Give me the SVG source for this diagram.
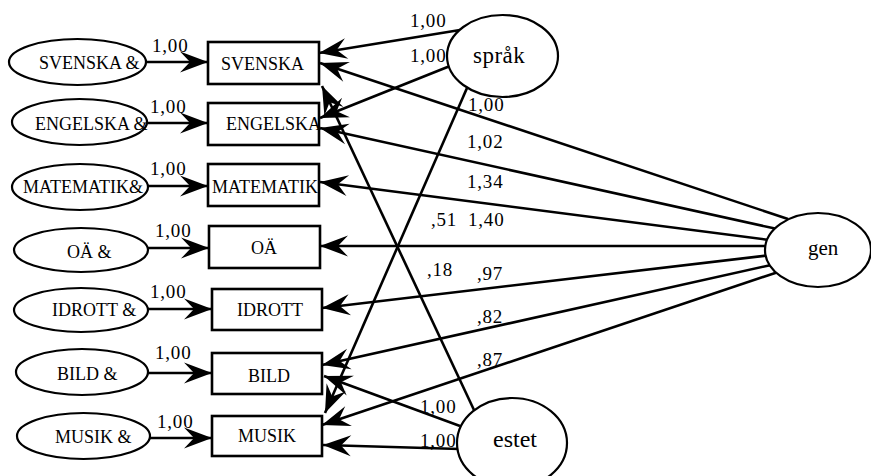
<svg xmlns="http://www.w3.org/2000/svg" width="871" height="476" viewBox="0 0 871 476">
  <style>
    .shape { fill: #fff; stroke: #000; stroke-width: 2.2; }
    .box { fill: #fff; stroke: #000; stroke-width: 2.6; }
    .edge { fill: none; stroke: #000; stroke-width: 2.6; marker-end: url(#head); }
    .t { font-family: Liberation Serif, Times New Roman, Times, serif; fill: #000; }
    .lbl { font-size: 18px; }
    .num { font-size: 19px; letter-spacing: 0.8px; }
  </style>
  <defs>
    <marker id="head" markerUnits="userSpaceOnUse" viewBox="-30 -11 32 22" refX="0" refY="0" markerWidth="32" markerHeight="22" orient="auto">
      <path d="M0,0 L-28,-10.5 L-18,0 L-28,10.5 Z" fill="#000"/>
    </marker>
  </defs>

  <!-- paths and their weights -->
  <g id="connectors">
    <!-- error terms into observed grades -->
    <line class="edge" x1="146" y1="62" x2="208" y2="62"/>
    <line class="edge" x1="147" y1="123" x2="208" y2="123"/>
    <line class="edge" x1="148" y1="186" x2="208" y2="186"/>
    <line class="edge" x1="148" y1="248" x2="209" y2="248"/>
    <line class="edge" x1="148" y1="309" x2="212" y2="309"/>
    <line class="edge" x1="148" y1="373" x2="212" y2="373"/>
    <line class="edge" x1="150" y1="438" x2="212" y2="438"/>
    <g class="t num">
      <text x="152" y="52">1,00</text>
      <text x="150" y="113">1,00</text>
      <text x="150" y="175">1,00</text>
      <text x="155" y="237">1,00</text>
      <text x="150" y="298">1,00</text>
      <text x="155" y="359">1,00</text>
      <text x="157" y="428">1,00</text>
    </g>

    <!-- språk factor -->
    <line class="edge" x1="460" y1="30" x2="319" y2="53"/>
    <line class="edge" x1="450" y1="66" x2="320" y2="118"/>
    <line class="edge" x1="467" y1="88" x2="325" y2="413"/>
    <g class="t num">
      <text x="410" y="27">1,00</text>
      <text x="410" y="62">1,00</text>
      <text x="431" y="226">,51</text>
    </g>

    <!-- estet factor -->
    <line class="edge" x1="474" y1="410" x2="322" y2="86"/>
    <line class="edge" x1="460" y1="426" x2="324" y2="376"/>
    <line class="edge" x1="460" y1="449" x2="323" y2="445"/>
    <g class="t num">
      <text x="427" y="276">,18</text>
      <text x="420" y="413">1,00</text>
      <text x="420" y="447">1,00</text>
    </g>

    <!-- gen factor -->
    <line class="edge" x1="788" y1="219" x2="320" y2="63"/>
    <line class="edge" x1="775" y1="228.6" x2="320" y2="128"/>
    <line class="edge" x1="767" y1="239.7" x2="320" y2="182"/>
    <line class="edge" x1="765" y1="246" x2="320" y2="246"/>
    <line class="edge" x1="766" y1="255.6" x2="322" y2="308"/>
    <line class="edge" x1="770" y1="265.2" x2="322" y2="365"/>
    <line class="edge" x1="776" y1="272.7" x2="322" y2="425"/>
    <g class="t num">
      <text x="468" y="111">1,00</text>
      <text x="467" y="148">1,02</text>
      <text x="467" y="188">1,34</text>
      <text x="468" y="226">1,40</text>
      <text x="477" y="280">,97</text>
      <text x="477" y="323">,82</text>
      <text x="477" y="366">,87</text>
    </g>
  </g>

  <!-- error terms -->
  <g id="e-svenska"><ellipse class="shape" cx="77.5" cy="62" rx="68.5" ry="23"/><text class="t lbl" x="39" y="69">SVENSKA &amp;</text></g>
  <g id="e-engelska"><ellipse class="shape" cx="79.5" cy="122" rx="67.5" ry="23"/><text class="t lbl" x="35" y="130">ENGELSKA &amp;</text></g>
  <g id="e-matematik"><ellipse class="shape" cx="80" cy="187" rx="68" ry="23"/><text class="t lbl" x="23" y="193">MATEMATIK&amp;</text></g>
  <g id="e-oa"><ellipse class="shape" cx="81" cy="250" rx="67" ry="22"/><text class="t lbl" x="67" y="258">OÄ &amp;</text></g>
  <g id="e-idrott"><ellipse class="shape" cx="81" cy="310" rx="67" ry="22"/><text class="t lbl" x="52" y="316">IDROTT &amp;</text></g>
  <g id="e-bild"><ellipse class="shape" cx="82" cy="372" rx="66" ry="23"/><text class="t lbl" x="57" y="380">BILD &amp;</text></g>
  <g id="e-musik"><ellipse class="shape" cx="83.5" cy="436" rx="66.5" ry="23"/><text class="t lbl" x="55" y="443">MUSIK &amp;</text></g>

  <!-- observed grades -->
  <g id="svenska"><rect class="box" x="208" y="42" width="111" height="42"/><text class="t lbl" x="221" y="70">SVENSKA</text></g>
  <g id="engelska"><rect class="box" x="208" y="103" width="111" height="42"/><text class="t lbl" x="226" y="130">ENGELSKA</text></g>
  <g id="matematik"><rect class="box" x="208" y="164" width="111" height="42"/><text class="t lbl" x="212" y="193">MATEMATIK</text></g>
  <g id="oa"><rect class="box" x="209" y="226" width="111" height="42"/><text class="t lbl" x="251" y="254">OÄ</text></g>
  <g id="idrott"><rect class="box" x="212" y="289" width="110" height="41"/><text class="t lbl" x="237" y="316">IDROTT</text></g>
  <g id="bild"><rect class="box" x="212" y="353" width="110" height="41"/><text class="t lbl" x="248" y="382">BILD</text></g>
  <g id="musik"><rect class="box" x="212" y="416" width="110" height="40"/><text class="t lbl" x="238" y="442">MUSIK</text></g>

  <!-- latent factors -->
  <g id="sprak"><ellipse class="shape" cx="502.5" cy="56" rx="55.5" ry="41"/><text class="t" x="473" y="63" font-size="23" letter-spacing="0.5">språk</text></g>
  <g id="gen"><ellipse class="shape" cx="818" cy="250" rx="53" ry="37"/><text class="t" x="808" y="255" font-size="21">gen</text></g>
  <g id="estet"><ellipse class="shape" cx="512" cy="443" rx="55" ry="45"/><text class="t" x="493" y="447" font-size="24">estet</text></g>
</svg>
